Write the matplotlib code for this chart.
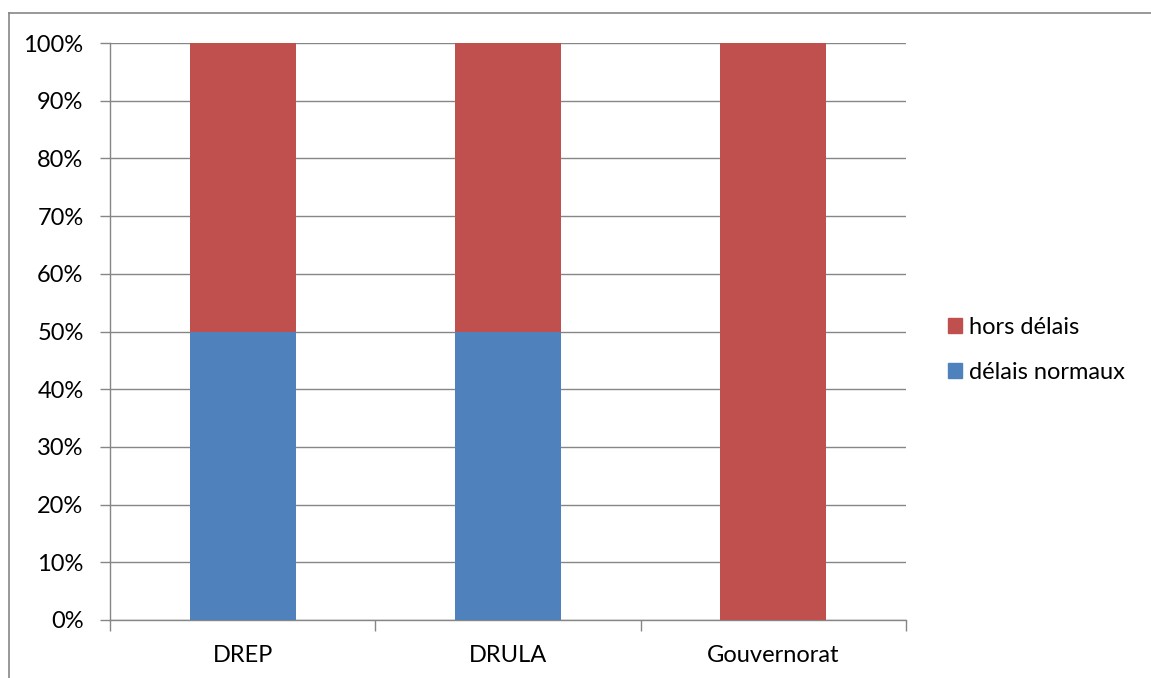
import matplotlib
matplotlib.use("Agg")
import matplotlib.pyplot as plt
from matplotlib.lines import Line2D
from matplotlib.patches import Patch
import numpy as np

categories = ["DREP", "DRULA", "Gouvernorat"]
delais_normaux = [50, 50, 0]
hors_delais = [50, 50, 100]
yticks = [0, 10, 20, 30, 40, 50, 60, 70, 80, 90, 100]

plt.rcParams["font.family"] = ["Lato", "DejaVu Sans"]

BLUE = "#4F81BD"
RED = "#C0504D"
GRID = "#868686"
FS = 17

fig = plt.figure(figsize=(11.51, 6.78), dpi=100)
ax = fig.add_axes([110 / 1151, 1 - 620 / 678, 796 / 1151, 577 / 678])

x = np.arange(len(categories))
ax.bar(x, delais_normaux, width=0.4, color=BLUE, zorder=3, label="délais normaux")
ax.bar(x, hors_delais, width=0.4, bottom=delais_normaux, color=RED, zorder=3,
       label="hors délais")

ax.set_xlim(-0.5, len(categories) - 0.5)
ax.set_ylim(0, 100)
ax.set_yticks(yticks)
ax.set_yticklabels([f"{v}%" for v in yticks], fontsize=FS)
ax.yaxis.grid(True, color=GRID, linewidth=1.0, zorder=0)
ax.tick_params(axis="y", length=7, width=1.0, color=GRID, pad=12)

ax.set_xticks(np.arange(len(categories) + 1) - 0.5)
ax.set_xticklabels([])
ax.set_xticks(x, minor=True)
ax.set_xticklabels(categories, minor=True, fontsize=FS)
ax.tick_params(axis="x", which="major", length=8, width=1.0, color=GRID)
ax.tick_params(axis="x", which="minor", length=0, pad=18)

for side in ("top", "right"):
    ax.spines[side].set_visible(False)
for side in ("left", "bottom"):
    ax.spines[side].set_color(GRID)
    ax.spines[side].set_linewidth(1.0)

handles = [Patch(color=RED), Patch(color=BLUE)]
fig.legend(handles, ["hors délais", "délais normaux"], loc="center left",
           bbox_to_anchor=(948 / 1151, 1 - 350 / 678), frameon=False,
           fontsize=FS, handlelength=0.6, handleheight=0.6, handletextpad=0.3,
           labelspacing=1.0, borderpad=0, borderaxespad=0)

# chart frame (left and top edges)
fig.add_artist(Line2D([9 / 1151, 9 / 1151], [0, 1 - 13 / 678], color=GRID, lw=1.2,
                      transform=fig.transFigure))
fig.add_artist(Line2D([9 / 1151, 1], [1 - 13 / 678, 1 - 13 / 678], color=GRID, lw=1.2,
                      transform=fig.transFigure))

fig.savefig("out.png", dpi=100)
